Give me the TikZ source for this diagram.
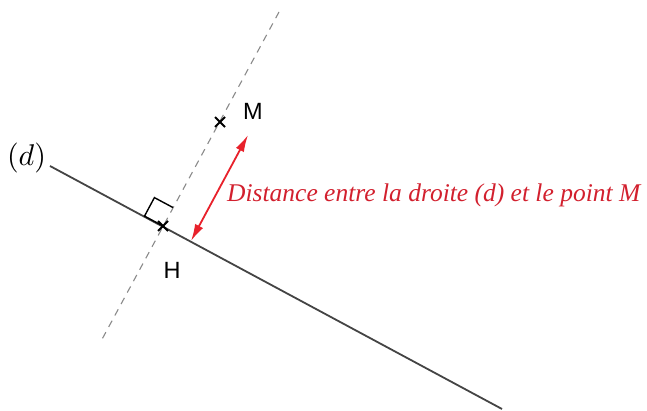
\documentclass[tikz,border=0pt]{standalone}
\usepackage{fontspec}
\newfontfamily\labelfont{Liberation Sans}
\newfontfamily\notefont{Liberation Serif}
\usetikzlibrary{arrows.meta,calc}
\definecolor{dline}{HTML}{444444}
\definecolor{dashgray}{HTML}{8A8A8A}
\definecolor{redarrow}{HTML}{E8212B}
\definecolor{redtext}{HTML}{D2202E}
\begin{document}
\begin{tikzpicture}[x=1pt,y=-1pt,
  mainline/.style={draw=dline,line width=1.8pt},
  perpline/.style={draw=dashgray,line width=1.1pt,dash pattern=on 7pt off 6pt},
  crossmark/.style={draw=black,line width=1.8pt},
  ptlabel/.style={font=\labelfont\fontsize{23.5}{26}\selectfont,inner sep=0pt},
  distarrow/.style={draw=redarrow,line width=1.8pt,{Latex[length=17pt,width=9pt]}-{Latex[length=17pt,width=9pt]}},
  notetext/.style={font=\notefont\itshape\fontsize{25.5}{28}\selectfont,text=redtext,inner sep=0pt}]
\useasboundingbox (0,0) rectangle (647,411);
\coordinate (d1) at (50,166);
\coordinate (d2) at (502,409);
\coordinate (ptop) at (279,12);
\coordinate (pbot) at (100,343);
\coordinate (H) at (163,226);
\coordinate (M) at (220,122);
\coordinate (A1) at (191,241);
\coordinate (A2) at (248,135);
\draw[perpline] (ptop) -- (pbot);
\draw[mainline] (d1) -- (d2);
\draw[draw=black,line width=1.4pt] (H) -- ++(-18.5,-9.9) -- ++(9.9,-18.5) -- ++(18.5,9.9);
\draw[crossmark] ($(H)+(-5,-5)$) -- ($(H)+(5,5)$) ($(H)+(-5,5)$) -- ($(H)+(5,-5)$);
\draw[crossmark] ($(M)+(-5,-5)$) -- ($(M)+(5,5)$) ($(M)+(-5,5)$) -- ($(M)+(5,-5)$);
\draw[distarrow] (A1) -- (A2);
\node[ptlabel] (lM) at (253,111) {M};
\node[ptlabel] (lH) at (172,270) {H};
\node[inner sep=0pt] (ld) at (26.5,158) {\scalebox{3}{$(d)$}};
\node[notetext,anchor=base west] (note) at (227,202) {Distance entre la droite (d) et le point M};
\end{tikzpicture}
\end{document}
